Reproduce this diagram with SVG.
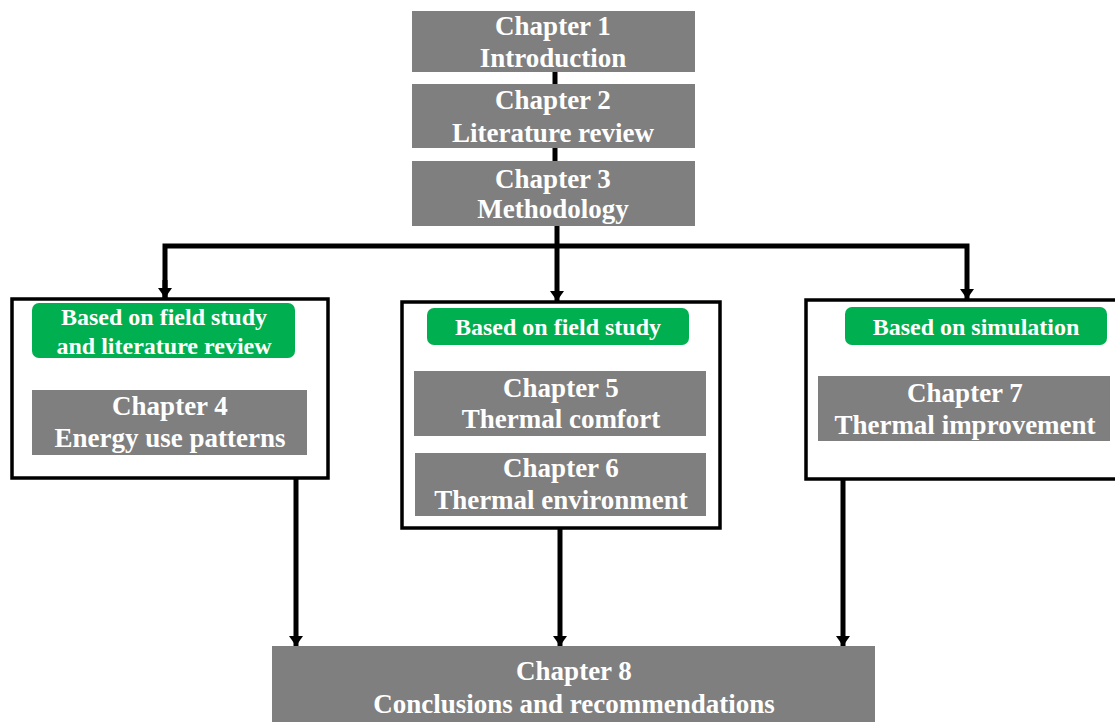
<svg xmlns="http://www.w3.org/2000/svg" width="1115" height="722" viewBox="0 0 1115 722">
<style>
.ch{fill:#7f7f7f}
.gr{fill:#00b050}
.frame{fill:#fff;stroke:#000;stroke-width:3.5}
.t{font-family:"Liberation Serif","Times New Roman",serif;font-weight:bold;fill:#fff;text-anchor:middle}
.tc{font-size:27px}
.tg{font-size:24px}
.ln{stroke:#000;stroke-width:5;fill:none;stroke-linejoin:miter}
</style>
<defs>
<marker id="ad" markerUnits="userSpaceOnUse" markerWidth="10" markerHeight="14" refX="10" refY="7" orient="auto" viewBox="0 0 10 14">
<path d="M0,0 L10,7 L0,14 Z" fill="#000"/>
</marker>
</defs>
<g id="connectors">
<line class="ln" x1="555" y1="71" x2="555" y2="84"/>
<line class="ln" x1="555" y1="147" x2="555" y2="162"/>
<line class="ln" x1="557" y1="225" x2="557" y2="301" marker-end="url(#ad)"/>
<polyline class="ln" points="165,298 165,246 967,246 967,299" marker-end="url(#ad)"/>
<line class="ln" x1="165" y1="280" x2="165" y2="298" marker-end="url(#ad)"/>
<line class="ln" x1="296" y1="478" x2="296" y2="646" marker-end="url(#ad)"/>
<line class="ln" x1="560" y1="528" x2="560" y2="646" marker-end="url(#ad)"/>
<line class="ln" x1="843" y1="480" x2="843" y2="646" marker-end="url(#ad)"/>
</g>
<g id="ch1"><rect class="ch" x="412" y="11" width="283" height="61"/><text class="t tc" x="553" y="35">Chapter 1</text><text class="t tc" x="553" y="67">Introduction</text></g>
<g id="ch2"><rect class="ch" x="412" y="84" width="283" height="64"/><text class="t tc" x="553" y="109">Chapter 2</text><text class="t tc" x="553" y="142">Literature review</text></g>
<g id="ch3"><rect class="ch" x="412" y="161" width="283" height="65"/><text class="t tc" x="553" y="188">Chapter 3</text><text class="t tc" x="553" y="218">Methodology</text></g>
<g id="group-left">
<rect class="frame" x="12" y="299" width="316" height="179"/>
<rect class="gr" x="32" y="303" width="263" height="55" rx="7"/>
<text class="t tg" x="164" y="325">Based on field study</text>
<text class="t tg" x="164" y="354">and literature review</text>
</g>
<g id="ch4"><rect class="ch" x="32" y="390" width="275" height="65"/><text class="t tc" x="170" y="415">Chapter 4</text><text class="t tc" x="170" y="447">Energy use patterns</text></g>
<g id="group-middle">
<rect class="frame" x="402" y="302" width="318" height="226"/>
<rect class="gr" x="427" y="308" width="262" height="37" rx="7"/>
<text class="t tg" x="558" y="335">Based on field study</text>
</g>
<g id="ch5"><rect class="ch" x="414" y="371" width="292" height="65"/><text class="t tc" x="561" y="397">Chapter 5</text><text class="t tc" x="561" y="428">Thermal comfort</text></g>
<g id="ch6"><rect class="ch" x="415" y="453" width="291" height="63"/><text class="t tc" x="561" y="477">Chapter 6</text><text class="t tc" x="561" y="509">Thermal environment</text></g>
<g id="group-right">
<rect class="frame" x="806" y="300" width="320" height="179"/>
<rect class="gr" x="845" y="307" width="262" height="38" rx="7"/>
<text class="t tg" x="976" y="335">Based on simulation</text>
</g>
<g id="ch7"><rect class="ch" x="818" y="376" width="292" height="65"/><text class="t tc" x="965" y="402">Chapter 7</text><text class="t tc" x="965" y="434">Thermal improvement</text></g>
<g id="ch8"><rect class="ch" x="272" y="646" width="603" height="76"/><text class="t tc" x="574" y="680">Chapter 8</text><text class="t tc" x="574" y="713">Conclusions and recommendations</text></g>
</svg>
